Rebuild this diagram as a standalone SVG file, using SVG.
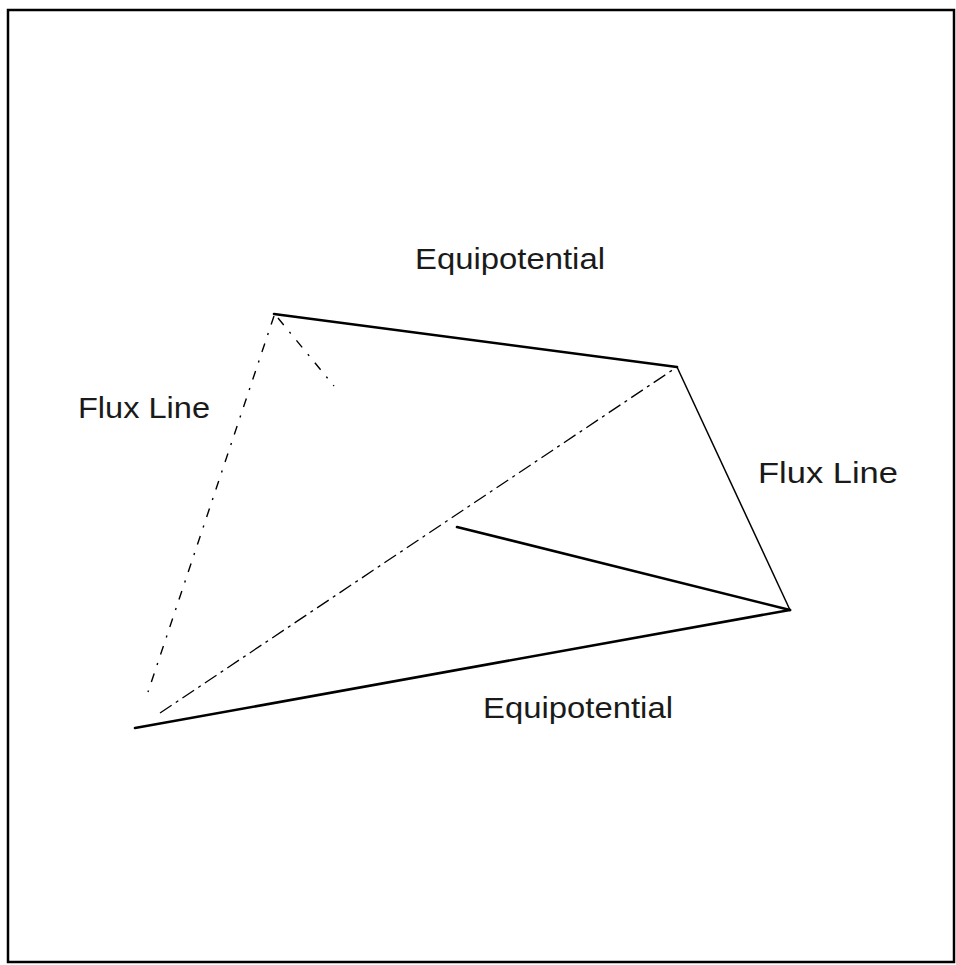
<svg xmlns="http://www.w3.org/2000/svg" width="956" height="965" viewBox="0 0 956 965">
<style>
.lbl{font-family:"Liberation Sans",Arial,sans-serif;font-size:29px;fill:#1a1a1a;}
.solid{stroke:#000;stroke-width:2.6;fill:none;stroke-linecap:round;}
.thin{stroke:#000;stroke-width:1.5;fill:none;}
.dash{stroke:#000;stroke-width:1.3;fill:none;stroke-dasharray:14 5 3 5;}
.dashdot{stroke:#000;stroke-width:1.4;fill:none;stroke-dasharray:9 9 2 9;}
</style>
<rect x="8" y="10" width="946" height="952" fill="#fff" stroke="#000" stroke-width="2.5"/>
<g id="connectors">
<line id="AB" class="solid" x1="274" y1="314" x2="677" y2="367"/>
<line id="BC" class="thin" x1="677" y1="367" x2="790" y2="610"/>
<line id="EC" class="solid" x1="457" y1="527" x2="790" y2="610"/>
<line id="DC" class="solid" x1="135" y1="728" x2="790" y2="610"/>
<line id="DB" class="dash" x1="160" y1="713" x2="677" y2="367"/>
<line id="AD" class="dashdot" x1="274" y1="316" x2="148" y2="692"/>
<line id="AF" class="dashdot" x1="278" y1="318" x2="334" y2="386"/>
</g>
<g id="label-top"><text class="lbl" x="415" y="269" textLength="190" lengthAdjust="spacingAndGlyphs">Equipotential</text></g>
<g id="label-bottom"><text class="lbl" x="483" y="718" textLength="190" lengthAdjust="spacingAndGlyphs">Equipotential</text></g>
<g id="label-right"><text class="lbl" x="758" y="483" textLength="140" lengthAdjust="spacingAndGlyphs">Flux Line</text></g>
<g id="label-left"><text class="lbl" x="78" y="418" textLength="132" lengthAdjust="spacingAndGlyphs">Flux Line</text></g>
</svg>
